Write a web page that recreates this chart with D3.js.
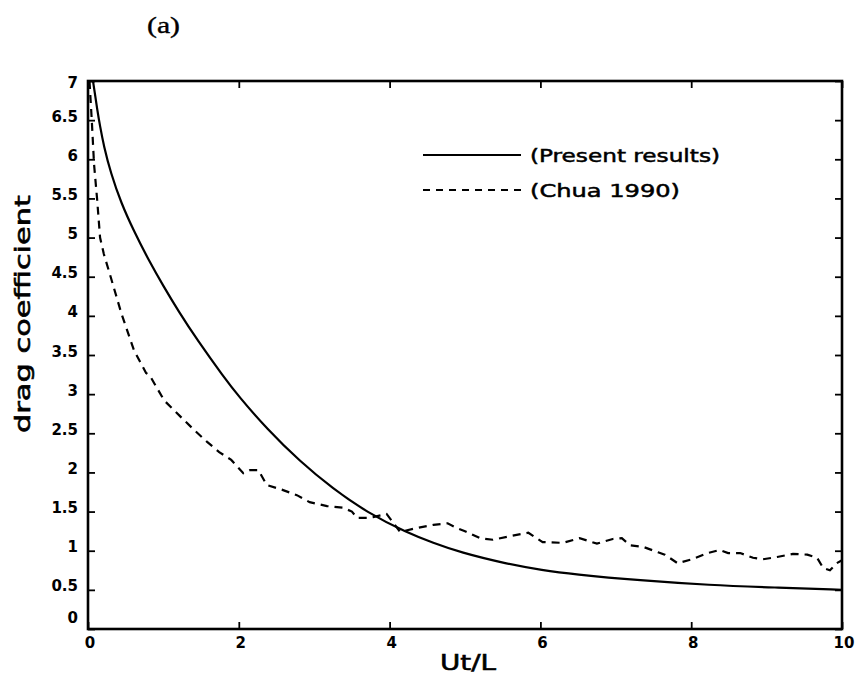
<!DOCTYPE html>
<html>
<head>
<meta charset="utf-8">
<script src="https://cdn.jsdelivr.net/npm/d3@7"></script>
<style>
  html, body { margin: 0; padding: 0; background: #fff; }
  svg { display: block; }
</style>
</head>
<body>
<svg id="chart" width="860" height="679"></svg>
<script>
// ---- data ----
const presentT = [0.066, 0.09, 0.12, 0.16, 0.21, 0.3, 0.44, 0.61, 0.8, 1.0, 1.2, 1.45, 1.8, 2.0, 2.37, 2.81, 3.25, 3.7, 4.23, 4.58, 4.93, 5.56, 6.03, 6.43, 7.32, 8.25, 9.1, 10];
const presentCd = [7.0, 6.85, 6.65, 6.42, 6.17, 5.83, 5.44, 5.08, 4.72, 4.38, 4.06, 3.69, 3.22, 2.97, 2.56, 2.14, 1.79, 1.49, 1.23, 1.1, 0.98, 0.83, 0.75, 0.7, 0.62, 0.56, 0.53, 0.5];

const chuaT = [0.02, 0.05, 0.08, 0.12, 0.16, 0.21, 0.3, 0.44, 0.61, 0.77, 0.8, 0.83, 1.01, 1.23, 1.41, 1.58, 1.74, 1.9, 2.06, 2.15, 2.26, 2.37, 2.57, 2.77, 2.94, 3.17, 3.38, 3.5, 3.57, 3.7, 3.78, 3.96, 4.14, 4.36, 4.58, 4.77, 4.89, 5.0, 5.2, 5.37, 5.62, 5.84, 6.03, 6.3, 6.52, 6.75, 6.96, 7.08, 7.19, 7.36, 7.56, 7.65, 7.82, 8.01, 8.22, 8.38, 8.49, 8.65, 8.82, 8.95, 9.14, 9.35, 9.54, 9.67, 9.75, 9.84, 9.93, 10];
const chuaCd = [7.0, 6.5, 5.94, 5.5, 5.0, 4.79, 4.5, 4.04, 3.56, 3.27, 3.25, 3.22, 2.92, 2.71, 2.54, 2.39, 2.26, 2.16, 1.99, 2.03, 2.03, 1.84, 1.78, 1.71, 1.62, 1.57, 1.55, 1.5, 1.42, 1.42, 1.43, 1.47, 1.24, 1.29, 1.33, 1.35, 1.29, 1.25, 1.16, 1.14, 1.19, 1.23, 1.11, 1.1, 1.16, 1.09, 1.15, 1.16, 1.07, 1.05, 0.98, 0.95, 0.84, 0.89, 0.97, 1.01, 0.97, 0.97, 0.91, 0.89, 0.92, 0.96, 0.95, 0.91, 0.78, 0.75, 0.84, 0.88];

const xTicks = [0, 2, 4, 6, 8, 10];
const yTicks = [0, 0.5, 1, 1.5, 2, 2.5, 3, 3.5, 4, 4.5, 5, 5.5, 6, 6.5, 7];
const seriesNames = ["(Present results)", "(Chua 1990)"];
const xLabel = "Ut/L";
const yLabel = "drag coefficient";
const panelLabel = "(a)";

// ---- layout ----
const svg = d3.select("#chart");
const pL = 88, pR = 842, pT = 81, pB = 629;
const x = d3.scaleLinear().domain([0, 10]).range([pL, pR]);
const y = d3.scaleLinear().domain([0, 7]).range([pB, pT]);
const tickFont = "'DejaVu Sans', sans-serif";

svg.append("defs").append("clipPath").attr("id", "clip")
  .append("rect").attr("x", pL).attr("y", pT).attr("width", pR - pL).attr("height", pB - pT);

// curves
const present = presentT.map((t, i) => [t, presentCd[i]]);
const chua = chuaT.map((t, i) => [t, chuaCd[i]]);

const g = svg.append("g").attr("clip-path", "url(#clip)");
g.append("path").datum(present)
  .attr("fill", "none").attr("stroke", "#000").attr("stroke-width", 2.2)
  .attr("d", d3.line().x(d => x(d[0])).y(d => y(d[1])).curve(d3.curveBasis));
g.append("path").datum(chua)
  .attr("fill", "none").attr("stroke", "#000").attr("stroke-width", 2.2)
  .attr("stroke-dasharray", "8,6")
  .attr("d", d3.line().x(d => x(d[0])).y(d => y(d[1])));

// axes with inward ticks
const tickLen = 7;
const axB = svg.append("g").attr("transform", `translate(0,${pB})`)
  .call(d3.axisBottom(x).tickValues(xTicks).tickSizeInner(-tickLen).tickSizeOuter(0).tickFormat(""));
const axT = svg.append("g").attr("transform", `translate(0,${pT})`)
  .call(d3.axisTop(x).tickValues(xTicks).tickSizeInner(-tickLen).tickSizeOuter(0).tickFormat(""));
const axL = svg.append("g").attr("transform", `translate(${pL},0)`)
  .call(d3.axisLeft(y).tickValues(yTicks).tickSizeInner(-tickLen).tickSizeOuter(0).tickFormat(""));
const axR = svg.append("g").attr("transform", `translate(${pR},0)`)
  .call(d3.axisRight(y).tickValues(yTicks).tickSizeInner(-tickLen).tickSizeOuter(0).tickFormat(""));
[axB, axT, axL, axR].forEach(a => {
  a.select(".domain").remove();
  a.selectAll(".tick line").attr("stroke", "#000").attr("stroke-width", 1.8);
});

// frame
svg.append("rect").attr("x", pL).attr("y", pT).attr("width", pR - pL).attr("height", pB - pT)
  .attr("fill", "none").attr("stroke", "#000").attr("stroke-width", 2.6);

// tick labels
svg.append("g").selectAll("text").data(xTicks).join("text")
  .attr("x", d => x(d) + 2).attr("y", pB + 19)
  .attr("text-anchor", "middle")
  .attr("font-family", tickFont).attr("font-weight", "bold").attr("font-size", 15)
  .text(d => d3.format("")(d));

svg.append("g").selectAll("text").data(yTicks).join("text")
  .attr("x", 78)
  .attr("y", d => y(d) + (d === 0 ? -6 : d === 7 ? 7 : 1.5))
  .attr("text-anchor", "end")
  .attr("font-family", tickFont).attr("font-weight", "bold").attr("font-size", 15)
  .text(d => d3.format("")(d));

// axis titles
svg.append("text").attr("x", 440).attr("y", 670)
  .attr("font-family", tickFont).attr("font-size", 22)
  .attr("stroke", "#000").attr("stroke-width", 0.6)
  .attr("textLength", 56).attr("lengthAdjust", "spacingAndGlyphs")
  .text(xLabel);

svg.append("text")
  .attr("transform", "translate(30,433) rotate(-90)")
  .attr("font-family", tickFont).attr("font-size", 22)
  .attr("stroke", "#000").attr("stroke-width", 0.6)
  .attr("textLength", 238).attr("lengthAdjust", "spacingAndGlyphs")
  .text(yLabel);

// panel label
svg.append("text").attr("x", 147).attr("y", 33)
  .attr("font-family", "'Liberation Serif', serif").attr("font-size", 24)
  .attr("stroke", "#000").attr("stroke-width", 0.4)
  .attr("textLength", 33).attr("lengthAdjust", "spacingAndGlyphs")
  .text(panelLabel);

// legend
const legend = svg.append("g");
const legRows = [{ name: seriesNames[0], dash: null, yy: 155, w: 190 }, { name: seriesNames[1], dash: "7,6", yy: 190, w: 150 }];
legRows.forEach(r => {
  legend.append("line").attr("x1", 423).attr("x2", 521).attr("y1", r.yy).attr("y2", r.yy)
    .attr("stroke", "#000").attr("stroke-width", 2.2).attr("stroke-dasharray", r.dash);
  legend.append("text").attr("x", 530).attr("y", r.yy + 7)
    .attr("font-family", tickFont).attr("font-size", 18)
    .attr("stroke", "#000").attr("stroke-width", 0.5)
    .attr("textLength", r.w).attr("lengthAdjust", "spacingAndGlyphs")
    .text(r.name);
});
</script>
</body>
</html>
